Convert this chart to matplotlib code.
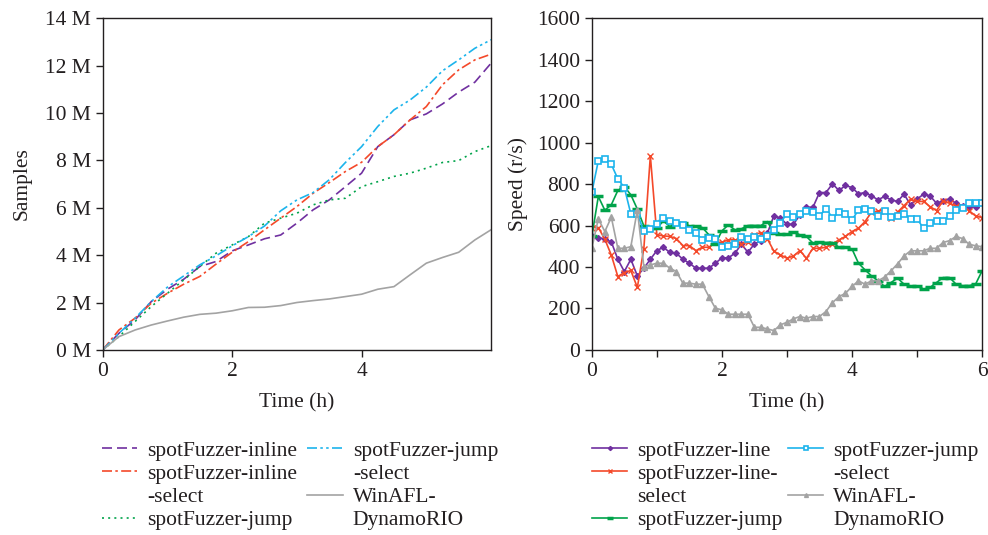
import matplotlib
matplotlib.use("Agg")
import matplotlib.pyplot as plt
from matplotlib.lines import Line2D
import numpy as np

plt.rcParams['font.family'] = ['Liberation Serif', 'DejaVu Serif']
plt.rcParams['font.size'] = 15.5

# ---- left chart: cumulative samples (millions), read every 0.25 h
t_cum = [0, 0.25, 0.5, 0.75, 1.0, 1.25, 1.5, 1.75, 2.0, 2.25, 2.5, 2.75, 3.0,
         3.25, 3.5, 3.75, 4.0, 4.25, 4.5, 4.75, 5.0, 5.25, 5.5, 5.75, 6.0]
inline = [0, 0.70, 1.27, 2.04, 2.56, 2.98, 3.52, 3.73, 4.18, 4.43, 4.69, 4.85, 5.35,
          5.91, 6.33, 6.89, 7.46, 8.58, 9.08, 9.71, 9.96, 10.38, 10.88, 11.30, 12.10]
inline_sel = [0, 0.84, 1.34, 1.97, 2.39, 2.77, 3.10, 3.62, 4.12, 4.57, 5.07, 5.56, 6.05,
              6.61, 7.06, 7.53, 7.92, 8.58, 9.08, 9.71, 10.27, 11.19, 11.82, 12.24, 12.48]
jump = [0, 0.56, 1.20, 1.83, 2.39, 2.95, 3.52, 4.08, 4.43, 4.78, 5.35, 5.56, 5.77,
        6.12, 6.33, 6.40, 6.89, 7.10, 7.32, 7.46, 7.67, 7.91, 7.99, 8.37, 8.62]
jump_sel = [0, 0.70, 1.34, 2.04, 2.65, 3.12, 3.59, 3.97, 4.39, 4.78, 5.23, 5.87, 6.33,
            6.64, 7.18, 7.91, 8.58, 9.43, 10.13, 10.55, 11.09, 11.78, 12.24, 12.73, 13.09]
winafl = [0, 0.56, 0.84, 1.05, 1.22, 1.38, 1.50, 1.55, 1.65, 1.79, 1.80, 1.87, 2.00,
          2.08, 2.15, 2.25, 2.35, 2.56, 2.67, 3.17, 3.66, 3.90, 4.12, 4.64, 5.07]

# ---- right chart: speed (r/s), read every 0.1 h
t_spd = np.round(np.arange(0, 6.01, 0.1), 1)
spd_line = [547, 542, 534, 521, 437, 378, 437, 357, 394, 437, 479, 495, 470, 466, 437, 418,
            394, 394, 394, 418, 444, 444, 466, 510, 471, 511, 527, 563, 648, 635, 606, 606,
            651, 688, 688, 759, 759, 801, 769, 793, 783, 753, 759, 743, 724, 740, 724, 716,
            751, 700, 727, 751, 743, 707, 719, 728, 707, 696, 691, 691, 711]
spd_line_sel = [590, 590, 534, 457, 354, 373, 383, 301, 489, 936, 555, 550, 547, 537, 503, 503,
                479, 495, 495, 519, 519, 531, 531, 511, 519, 555, 566, 535, 476, 458, 442, 453,
                479, 442, 490, 490, 495, 510, 531, 547, 571, 587, 619, 664, 670, 672, 635, 664,
                696, 727, 716, 716, 691, 672, 719, 707, 695, 691, 672, 646, 638]
spd_jump = [547, 740, 674, 700, 769, 788, 748, 679, 598, 587, 587, 622, 595, 614, 611, 598,
            598, 590, 555, 511, 574, 603, 579, 584, 600, 600, 600, 619, 563, 558, 558, 568,
            555, 547, 515, 519, 518, 518, 495, 495, 487, 418, 386, 357, 334, 306, 325, 346,
            317, 309, 309, 293, 301, 325, 349, 349, 317, 310, 310, 317, 381]
spd_jump_sel = [760, 912, 920, 895, 825, 783, 656, 656, 572, 582, 606, 638, 622, 614, 604, 579,
                563, 531, 539, 534, 495, 502, 511, 543, 535, 543, 535, 547, 579, 614, 656, 640,
                656, 672, 666, 646, 682, 637, 664, 654, 627, 675, 682, 672, 648, 672, 643, 646,
                656, 632, 632, 587, 614, 624, 622, 646, 675, 683, 707, 707, 707]
spd_winafl = [490, 632, 571, 640, 490, 490, 498, 675, 402, 410, 418, 418, 394, 378, 322, 322,
              317, 317, 257, 201, 193, 172, 172, 172, 172, 109, 109, 101, 93, 121, 133, 150,
              161, 153, 161, 161, 185, 228, 257, 273, 306, 333, 317, 333, 333, 351, 381, 415,
              453, 478, 478, 478, 490, 490, 518, 527, 547, 537, 510, 502, 498]

c_purple = '#7030a0'
c_red = '#f4492a'
c_green = '#00a34a'
c_cyan = '#1cb4ec'
c_gray = '#a3a3a3'
c_text = '#231f20'

fig = plt.figure(figsize=(9.88, 5.35), dpi=100)
ax1 = fig.add_axes([0.104, 0.346, 0.393, 0.62])
ax2 = fig.add_axes([0.599, 0.346, 0.395, 0.62])

lw = 1.2
l1, = ax1.plot(t_cum, inline, color=c_purple, lw=lw, linestyle=(0, (6, 3)))
l2, = ax1.plot(t_cum, inline_sel, color=c_red, lw=lw, linestyle=(0, (6, 2, 1.5, 2)))
l3, = ax1.plot(t_cum, jump, color=c_green, lw=lw, linestyle=(0, (1.2, 2.5)))
l4, = ax1.plot(t_cum, jump_sel, color=c_cyan, lw=lw, linestyle=(0, (6, 2, 1.5, 2, 1.5, 2)))
l5, = ax1.plot(t_cum, winafl, color=c_gray, lw=lw)

ax1.set_xlim(0, 6)
ax1.set_ylim(0, 14)
ax1.set_xticks([0, 2, 4], ['0', '2', '4'])
ax1.set_yticks(range(0, 15, 2), ['%d M' % v for v in range(0, 15, 2)])
ax1.set_xlabel('Time (h)', labelpad=9)
ax1.set_ylabel('Samples', labelpad=10)

r1, = ax2.plot(t_spd, spd_line, color=c_purple, lw=lw, marker='D', ms=3)
r2, = ax2.plot(t_spd, spd_line_sel, color=c_red, lw=lw, marker='x', ms=5, mew=1)
r3, = ax2.plot(t_spd, spd_jump, color=c_green, lw=lw, marker='_', ms=7, mew=2.5)
r4, = ax2.plot(t_spd, spd_jump_sel, color=c_cyan, lw=lw, marker='s', ms=4.5, mfc='white', mew=1.2)
r5, = ax2.plot(t_spd, spd_winafl, color=c_gray, lw=lw, marker='^', ms=4)

ax2.set_xlim(0, 6)
ax2.set_ylim(0, 1600)
ax2.set_xticks(range(0, 7), ['0', '', '2', '', '4', '', '6'])
ax2.set_yticks(range(0, 1601, 200))
ax2.set_xlabel('Time (h)', labelpad=9)
ax2.set_ylabel('Speed (r/s)', labelpad=6)

for ax in (ax1, ax2):
    for s in ax.spines.values():
        s.set_color(c_text)
        s.set_linewidth(1.0)
    ax.tick_params(direction='out', length=5, width=1, colors=c_text)
    ax.xaxis.label.set_color(c_text)
    ax.yaxis.label.set_color(c_text)

# wrapped legend labels: continuation lines are entries without a visible handle
blank = Line2D([], [], color='none')
leg_kw = dict(loc='upper left', ncol=2, frameon=False, borderpad=0,
              labelspacing=0.14, handlelength=1.65, handletextpad=0.47,
              borderaxespad=0, labelcolor=c_text)
ax1.legend([l1, l2, blank, l3, l4, blank, l5, blank],
           ['spotFuzzer-inline', 'spotFuzzer-inline', '-select', 'spotFuzzer-jump',
            'spotFuzzer-jump', '-select', 'WinAFL-', 'DynamoRIO'],
           bbox_to_anchor=(0.1032, 0.176), bbox_transform=fig.transFigure,
           columnspacing=0.45, **leg_kw)
ax2.legend([r1, r2, blank, r3, r4, blank, r5, blank],
           ['spotFuzzer-line', 'spotFuzzer-line-', 'select', 'spotFuzzer-jump',
            'spotFuzzer-jump', '-select', 'WinAFL-', 'DynamoRIO'],
           bbox_to_anchor=(0.599, 0.176), bbox_transform=fig.transFigure,
           columnspacing=0.23, markerscale=0.7, **leg_kw)

fig.savefig('out.png', dpi=100)
